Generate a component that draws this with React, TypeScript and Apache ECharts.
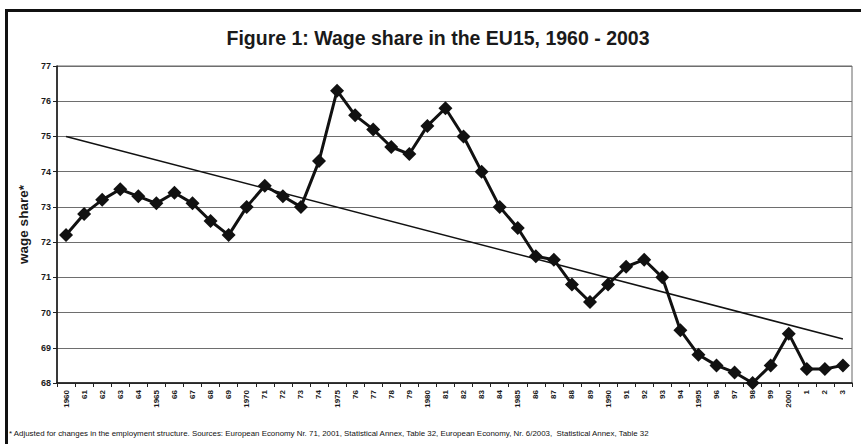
import React, { useEffect, useRef } from "react";
import * as echarts from "echarts";

const years = [
  "1960", "61", "62", "63", "64", "1965", "66", "67", "68", "69",
  "1970", "71", "72", "73", "74", "1975", "76", "77", "78", "79",
  "1980", "81", "82", "83", "84", "1985", "86", "87", "88", "89",
  "1990", "91", "92", "93", "94", "1995", "96", "97", "98", "99",
  "2000", "1", "2", "3",
];

const wageShare = [
  72.2, 72.8, 73.2, 73.5, 73.3, 73.1, 73.4, 73.1, 72.6, 72.2,
  73.0, 73.6, 73.3, 73.0, 74.3, 76.3, 75.6, 75.2, 74.7, 74.5,
  75.3, 75.8, 75.0, 74.0, 73.0, 72.4, 71.6, 71.5, 70.8, 70.3,
  70.8, 71.3, 71.5, 71.0, 69.5, 68.8, 68.5, 68.3, 68.0, 68.5,
  69.4, 68.4, 68.4, 68.5,
];

// Linear trend endpoints (1960 and 2003)
const trendStart = 75.0;
const trendEnd = 69.25;

const yMin = 68;
const yMax = 77;
const yStep = 1;

const titleText = "Figure 1: Wage share in the EU15, 1960 - 2003";
const yAxisName = "wage share*";
const footnote =
  "* Adjusted for changes in the employment structure. Sources: European Economy Nr. 71, 2001, Statistical Annex, Table 32, European Economy, Nr. 6/2003,  Statistical Annex, Table 32";

const FONT = "'Liberation Sans', Arial, sans-serif";

export default function App() {
  const ref = useRef<HTMLDivElement>(null);

  useEffect(() => {
    const chart = echarts.init(ref.current!, null, { renderer: "svg" });
    const trendData = years.map((_, i) =>
      i === 0 ? trendStart : i === years.length - 1 ? trendEnd : null
    );
    chart.setOption({
      animation: false,
      backgroundColor: "#fff",
      textStyle: { fontFamily: FONT },
      grid: {
        left: 57,
        right: 9,
        top: 66,
        bottom: 61,
        show: true,
        borderColor: "#666",
        borderWidth: 1,
        backgroundColor: "#fff",
      },
      xAxis: {
        type: "category",
        data: years,
        boundaryGap: true,
        axisLine: { lineStyle: { color: "#111", width: 1.5 } },
        axisTick: { show: true, length: 4, lineStyle: { color: "#222" } },
        axisLabel: {
          rotate: 90,
          interval: 0,
          fontSize: 8,
          fontWeight: "bold",
          color: "#1a1a1a",
          fontFamily: FONT,
          margin: 7,
        },
        splitLine: { show: false },
      },
      yAxis: {
        type: "value",
        min: yMin,
        max: yMax,
        interval: yStep,
        name: yAxisName,
        nameLocation: "middle",
        nameGap: 25,
        nameTextStyle: {
          fontSize: 13.5,
          fontWeight: "bold",
          color: "#1a1a1a",
          fontFamily: FONT,
        },
        axisLine: { show: true, lineStyle: { color: "#111", width: 1.5 } },
        axisTick: { show: true, length: 4, lineStyle: { color: "#222" } },
        axisLabel: {
          fontSize: 9,
          fontWeight: "bold",
          color: "#1a1a1a",
          fontFamily: FONT,
          margin: 6,
        },
        splitLine: { show: true, lineStyle: { color: "#6e6e6e", width: 1.2 } },
      },
      graphic: [
        {
          type: "line",
          shape: { x1: 6.5, y1: 9, x2: 6.5, y2: 444 },
          style: { stroke: "#111", lineWidth: 3 },
        },
        {
          type: "line",
          shape: { x1: 5, y1: 10.5, x2: 861, y2: 10.5 },
          style: { stroke: "#111", lineWidth: 3 },
        },
        {
          type: "text",
          x: 438,
          y: 38,
          style: {
            text: titleText,
            fontSize: 19.5,
            fontWeight: "bold",
            fontFamily: FONT,
            fill: "#1a1a1a",
            align: "center",
            verticalAlign: "middle",
          },
        },
        {
          type: "text",
          x: 9,
          y: 433,
          style: {
            text: footnote,
            fontSize: 7.9,
            fontFamily: FONT,
            fill: "#111",
            align: "left",
            verticalAlign: "middle",
          },
        },
      ],
      series: [
        {
          type: "line",
          data: trendData,
          connectNulls: true,
          showSymbol: false,
          symbol: "none",
          lineStyle: { color: "#111", width: 1.5 },
          z: 2,
        },
        {
          type: "line",
          data: wageShare,
          symbol: "diamond",
          symbolSize: 14,
          itemStyle: { color: "#111" },
          lineStyle: { color: "#111", width: 3 },
          z: 3,
        },
      ],
    });
    return () => chart.dispose();
  }, []);

  return (
    <div
      ref={ref}
      style={{
        position: "absolute",
        left: 0,
        top: 0,
        width: 861,
        height: 444,
        background: "#fff",
      }}
    />
  );
}
